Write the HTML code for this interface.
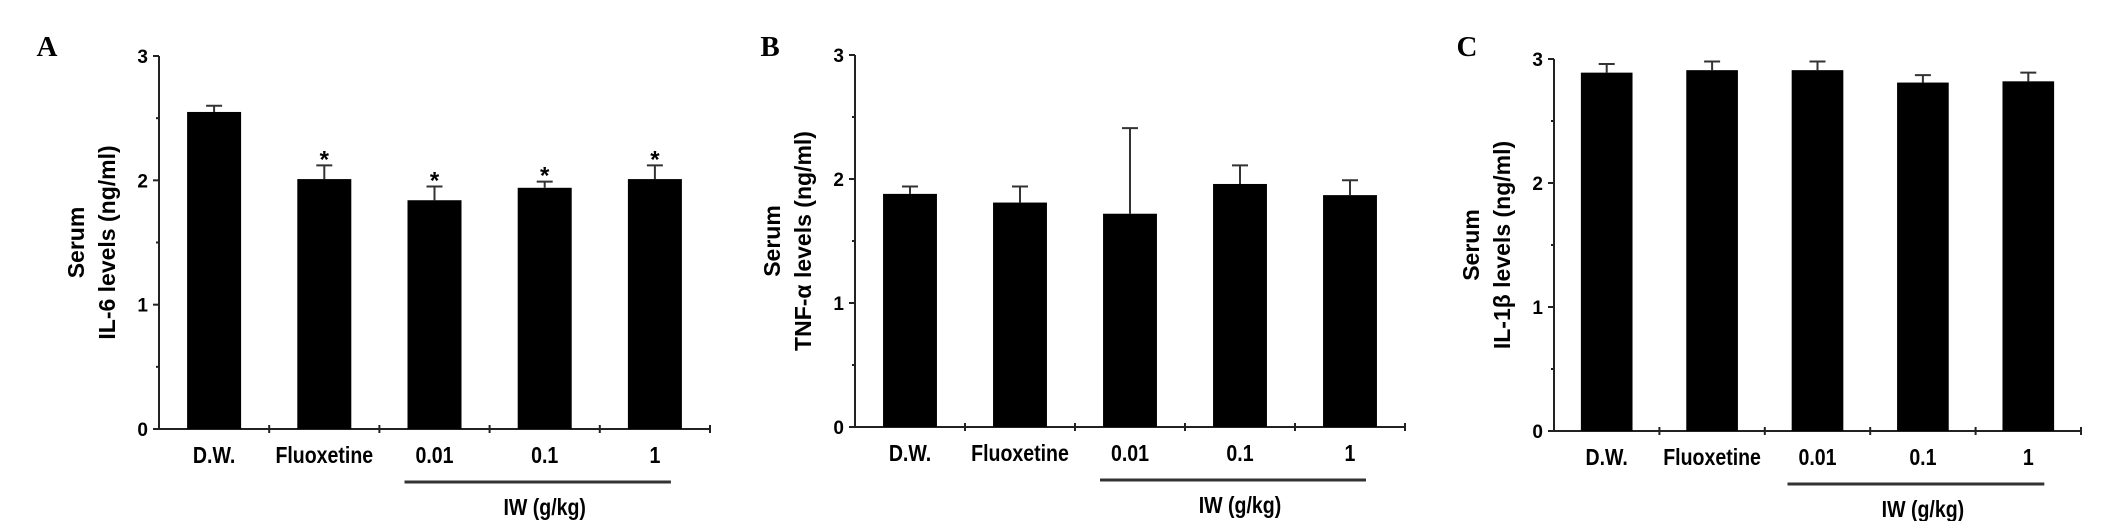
<!DOCTYPE html>
<html><head><meta charset="utf-8"><style>
html,body{margin:0;padding:0;background:#fff;}
svg{display:block;font-family:"Liberation Sans",Arial,sans-serif;}
</style></head><body>
<svg id="fig" width="2126" height="521" viewBox="0 0 2126 521"></svg>
<script>
const categories = ["D.W.", "Fluoxetine", "0.01", "0.1", "1"];
const il6Values = [2.55, 2.01, 1.84, 1.94, 2.01];
const il6Errors = [0.05, 0.11, 0.11, 0.05, 0.11];
const il6Stars = [false, true, true, true, true];
const tnfValues = [1.88, 1.81, 1.72, 1.96, 1.87];
const tnfErrors = [0.06, 0.13, 0.69, 0.15, 0.12];
const tnfStars = [false, false, false, false, false];
const il1bValues = [2.89, 2.91, 2.91, 2.81, 2.82];
const il1bErrors = [0.07, 0.07, 0.07, 0.06, 0.07];
const il1bStars = [false, false, false, false, false];
const yTicks = [0, 1, 2, 3];

const NS = "http://www.w3.org/2000/svg";
const svg = document.getElementById("fig");
function mk(tag, attrs, parent) {
  const e = document.createElementNS(NS, tag);
  for (const k in attrs) e.setAttribute(k, attrs[k]);
  (parent || svg).appendChild(e);
  return e;
}

const panels = [
  {letter:"A", lx:47, x0:159, x1:710, yTop:56, yBot:429, title2:"IL-6 levels (ng/ml)", vals:il6Values, errs:il6Errors, stars:il6Stars, key:"il6"},
  {letter:"B", lx:770, x0:855, x1:1405, yTop:55, yBot:427, title2:"TNF-α  levels (ng/ml)", vals:tnfValues, errs:tnfErrors, stars:tnfStars, key:"tnf"},
  {letter:"C", lx:1467, x0:1554, x1:2081, yTop:59, yBot:431, title2:"IL-1β  levels (ng/ml)", vals:il1bValues, errs:il1bErrors, stars:il1bStars, key:"il1b"}
];

panels.forEach(p => {
  const g = mk("g", {});
  
  
  const y = v => p.yBot - (v / 3) * (p.yBot - p.yTop);
  const cw = (p.x1 - p.x0) / categories.length;
  const xc = i => p.x0 + cw * (i + 0.5);
  const bw = cw * 0.49;

  const L = mk("text", {x:p.lx, y:56, "font-family":"Liberation Serif,serif", "font-weight":"bold", "font-size":"29", "text-anchor":"middle"}, g);
  L.textContent = p.letter;
  
  

  const tcx = p.x0 - 68, tcy = (p.yTop + p.yBot) / 2;
  const t = mk("text", {transform:`translate(${tcx},${tcy}) rotate(-90)`, "font-weight":"bold", "font-size":"23", "text-anchor":"middle"}, g);
  
  
  const s1 = mk("tspan", {x:0, y:-7}, t); s1.textContent = "Serum";
  const s2 = mk("tspan", {x:0, y:24}, t); s2.textContent = p.title2;

  const ya = mk("line", {x1:p.x0, y1:p.yTop, x2:p.x0, y2:p.yBot, stroke:"#222", "stroke-width":"2"}, g);
  
  
  for (let v = 0; v <= 3; v += 0.5) {
    mk("line", {x1:p.x0 - (v % 1 === 0 ? 6 : 3), y1:y(v), x2:p.x0, y2:y(v), stroke:"#222", "stroke-width":"2"}, g);
  }
  yTicks.forEach(v => {
    const tl = mk("text", {x:p.x0 - 11, y:y(v) + 7, "font-weight":"bold", "font-size":"19", "text-anchor":"end"}, g);
    tl.textContent = v;
    
    
  });

  const xa = mk("line", {x1:p.x0 - 6, y1:p.yBot, x2:p.x1, y2:p.yBot, stroke:"#222", "stroke-width":"2"}, g);
  
  
  for (let i = 1; i <= categories.length; i++) {
    mk("line", {x1:p.x0 + cw * i, y1:p.yBot - 4, x2:p.x0 + cw * i, y2:p.yBot + 4, stroke:"#222", "stroke-width":"2"}, g);
  }

  categories.forEach((c, i) => {
    const v = p.vals[i], e = p.errs[i];
    const eb = mk("path", {d:`M${xc(i)},${y(v)} V${y(v + e)} M${xc(i) - 8},${y(v + e)} H${xc(i) + 8}`, stroke:"#333", "stroke-width":"2", fill:"none"}, g);
    
    
    const r = mk("rect", {x:xc(i) - bw / 2, y:y(v), width:bw, height:p.yBot - y(v), fill:"#000"}, g);
    
    
    if (p.stars[i]) {
      const st = mk("text", {x:xc(i), y:y(v + e) + 2, "font-weight":"bold", "font-size":"24", "text-anchor":"middle"}, g);
      st.textContent = "*";
      
      
    }
    const cl = mk("text", {x:xc(i), y:p.yBot + 34, "font-weight":"bold", "font-size":"23", "text-anchor":"middle", transform:`translate(${xc(i)},0) scale(0.85,1) translate(${-xc(i)},0)`}, g);
    cl.textContent = c;
    
    
  });

  const gl = mk("line", {x1:xc(2) - 30, y1:p.yBot + 53, x2:xc(4) + 16, y2:p.yBot + 53, stroke:"#333", "stroke-width":"3"}, g);
  
  
  const gt = mk("text", {x:xc(3), y:p.yBot + 86, "font-weight":"bold", "font-size":"23", "text-anchor":"middle", transform:`translate(${xc(3)},0) scale(0.85,1) translate(${-xc(3)},0)`}, g);
  gt.textContent = "IW (g/kg)";
  
  
});
</script>
</body></html>
